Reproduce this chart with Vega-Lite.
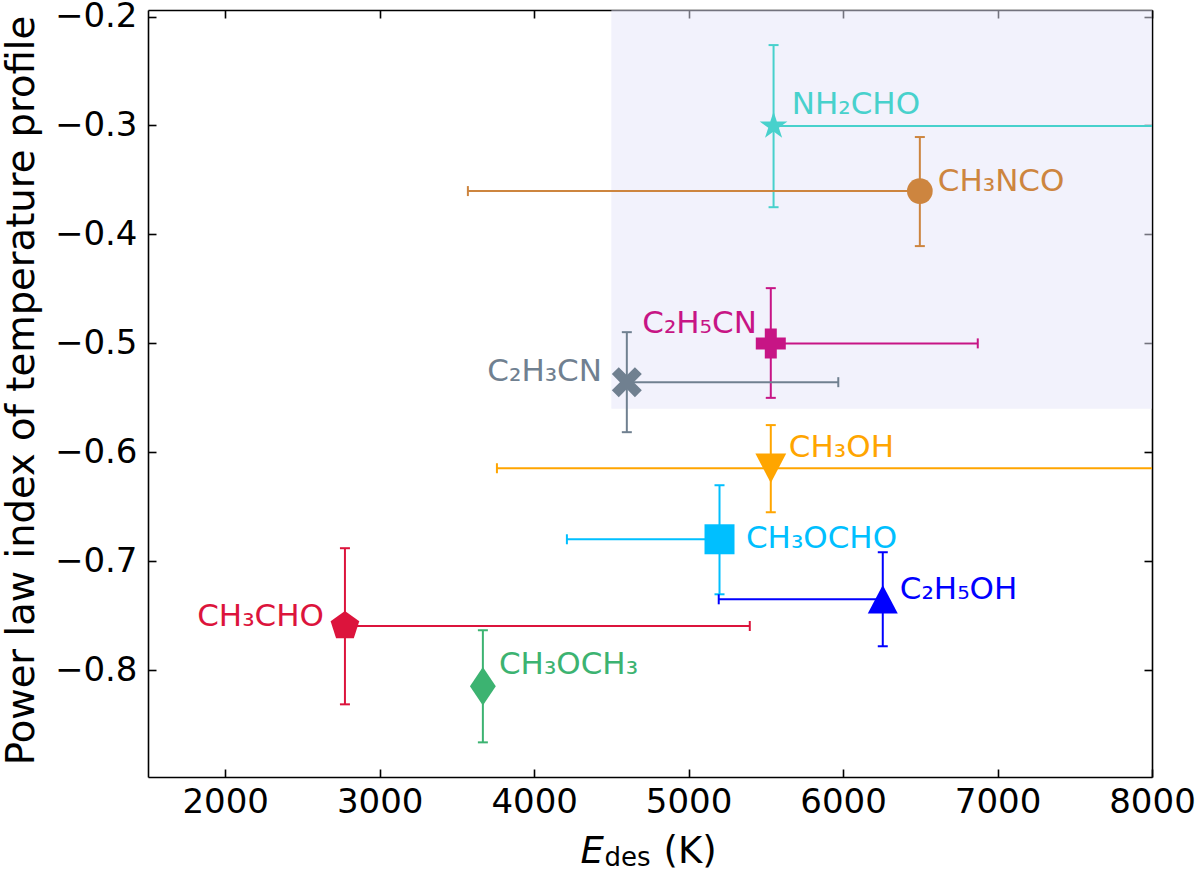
{
  "$schema": "https://vega.github.io/schema/vega-lite/v6.json",
  "width": 1004,
  "height": 767,
  "autosize": {"type": "none"},
  "padding": {"left": 148, "top": 10, "right": 48, "bottom": 96},
  "background": "white",
  "config": {
    "view": {"stroke": null},
    "axis": {
      "grid": false,
      "labelFlush": false,
      "domainColor": "black",
      "domainWidth": 1.6,
      "tickColor": "black",
      "tickWidth": 1.6,
      "labelFont": "DejaVu Sans",
      "labelFontSize": 34,
      "labelColor": "black",
      "titleFont": "DejaVu Sans",
      "titleFontSize": 37,
      "titleFontWeight": "normal",
      "titleColor": "black"
    },
    "text": {"font": "DejaVu Sans"}
  },
  "datasets": {
    "shade": [{"x1": 4500, "x2": 8600, "y1": -0.56, "y2": -0.1}],
    "mol": [
      {"name": "NH2CHO", "label": "NH₂CHO", "x": 5550, "y": -0.3005, "xlo": 5550, "xhi": 8600, "ylo": -0.375, "yhi": -0.2262, "lx": 5668, "ly": -0.2794},
      {"name": "CH3NCO", "label": "CH₃NCO", "x": 6497, "y": -0.3602, "xlo": 3571, "xhi": 6497, "ylo": -0.4107, "yhi": -0.3106, "lx": 6613, "ly": -0.35},
      {"name": "C2H5CN", "label": "C₂H₅CN", "x": 5532, "y": -0.5, "xlo": 5532, "xhi": 6872, "ylo": -0.55, "yhi": -0.4493, "lx": 5442, "ly": -0.4805},
      {"name": "C2H3CN", "label": "C₂H₃CN", "x": 4600, "y": -0.5356, "xlo": 4600, "xhi": 5969, "ylo": -0.5815, "yhi": -0.4897, "lx": 4439, "ly": -0.5246},
      {"name": "CH3OH", "label": "CH₃OH", "x": 5532, "y": -0.6146, "xlo": 3759, "xhi": 8600, "ylo": -0.655, "yhi": -0.575, "lx": 5649, "ly": -0.5944},
      {"name": "CH3OCHO", "label": "CH₃OCHO", "x": 5200, "y": -0.6798, "xlo": 4212, "xhi": 5200, "ylo": -0.7303, "yhi": -0.6302, "lx": 5371, "ly": -0.678},
      {"name": "C2H5OH", "label": "C₂H₅OH", "x": 6257, "y": -0.7349, "xlo": 5195, "xhi": 6257, "ylo": -0.778, "yhi": -0.6917, "lx": 6367, "ly": -0.7248},
      {"name": "CH3CHO", "label": "CH₃CHO", "x": 2775, "y": -0.7594, "xlo": 2775, "xhi": 5396, "ylo": -0.8313, "yhi": -0.688, "lx": 2639, "ly": -0.7496},
      {"name": "CH3OCH3", "label": "CH₃OCH₃", "x": 3668, "y": -0.8147, "xlo": 3668, "xhi": 3668, "ylo": -0.8662, "yhi": -0.7633, "lx": 3772, "ly": -0.7937}
    ]
  },
  "resolve": {"axis": {"x": "independent", "y": "independent"}},
  "layer": [
    {
      "data": {"name": "shade"},
      "mark": {"type": "rect", "fill": "#E6E6FA", "opacity": 0.5, "clip": true},
      "encoding": {
        "x": {
          "field": "x1",
          "type": "quantitative",
          "scale": {"domain": [1500, 8000], "nice": false, "zero": false},
          "axis": {
            "orient": "bottom",
            "values": [2000, 3000, 4000, 5000, 6000, 7000, 8000],
            "format": "d",
            "tickSize": -8,
            "labelPadding": 16,
            "title": "E",
            "titleFontStyle": "italic",
            "titleAlign": "left",
            "titleBaseline": "alphabetic",
            "titleX": 432,
            "titleY": 85
          }
        },
        "x2": {"field": "x2"},
        "y": {
          "field": "y1",
          "type": "quantitative",
          "scale": {"domain": [-0.898, -0.194], "nice": false, "zero": false},
          "axis": {
            "orient": "left",
            "values": [-0.8, -0.7, -0.6, -0.5, -0.4, -0.3, -0.2],
            "format": ".1f",
            "tickSize": -8,
            "labelPadding": 19,
            "title": "Power law index of temperature profile",
            "titleFontSize": 38.5,
            "titleAngle": 270,
            "titleAlign": "center",
            "titleBaseline": "alphabetic",
            "titleX": -115,
            "titleY": 380
          }
        },
        "y2": {"field": "y2"}
      }
    },
    {
      "data": {"name": "mol"},
      "mark": {"type": "rule", "strokeWidth": 2},
      "encoding": {
        "x": {
          "field": "x",
          "type": "quantitative",
          "scale": {"domain": [1500, 8000], "nice": false, "zero": false},
          "axis": {
            "orient": "top",
            "values": [2000, 3000, 4000, 5000, 6000, 7000, 8000],
            "labels": false,
            "tickSize": -8,
            "title": null
          }
        },
        "y": {
          "field": "ylo",
          "type": "quantitative",
          "scale": {"domain": [-0.898, -0.194], "nice": false, "zero": false},
          "axis": {
            "orient": "right",
            "values": [-0.8, -0.7, -0.6, -0.5, -0.4, -0.3, -0.2],
            "labels": false,
            "tickSize": -8,
            "title": null
          }
        },
        "y2": {"field": "yhi"},
        "color": {
          "field": "name",
          "type": "nominal",
          "scale": {
            "domain": ["NH2CHO", "CH3NCO", "C2H5CN", "C2H3CN", "CH3OH", "CH3OCHO", "C2H5OH", "CH3CHO", "CH3OCH3"],
            "range": ["#48D1CC", "#CD853F", "#C71585", "#708090", "#FFA500", "#00BFFF", "#0000FF", "#DC143C", "#3CB371"]
          },
          "legend": null
        }
      }
    },
    {
      "data": {"name": "mol"},
      "mark": {"type": "rule", "strokeWidth": 2, "clip": true},
      "encoding": {
        "x": {
          "field": "xlo",
          "type": "quantitative",
          "scale": {"domain": [1500, 8000], "nice": false, "zero": false},
          "axis": {
            "orient": "bottom",
            "labels": false,
            "ticks": false,
            "domain": false,
            "title": "des",
            "titleFontSize": 26,
            "titleAlign": "left",
            "titleBaseline": "alphabetic",
            "titleX": 456,
            "titleY": 88
          }
        },
        "x2": {"field": "xhi"},
        "y": {"field": "y", "type": "quantitative", "scale": {"domain": [-0.898, -0.194], "nice": false, "zero": false}, "axis": null},
        "color": {"field": "name", "type": "nominal", "legend": null}
      }
    },
    {
      "data": {"name": "mol"},
      "transform": [{"fold": ["ylo", "yhi"], "as": ["end", "yv"]}],
      "mark": {"type": "tick", "orient": "horizontal", "size": 10, "thickness": 2, "opacity": 1},
      "encoding": {
        "x": {
          "field": "x",
          "type": "quantitative",
          "scale": {"domain": [1500, 8000], "nice": false, "zero": false},
          "axis": {
            "orient": "bottom",
            "labels": false,
            "ticks": false,
            "domain": false,
            "title": "(K)",
            "titleAlign": "left",
            "titleBaseline": "alphabetic",
            "titleX": 515,
            "titleY": 85
          }
        },
        "y": {"field": "yv", "type": "quantitative", "scale": {"domain": [-0.898, -0.194], "nice": false, "zero": false}, "axis": null},
        "color": {"field": "name", "type": "nominal", "legend": null}
      }
    },
    {
      "data": {"name": "mol"},
      "transform": [{"fold": ["xlo", "xhi"], "as": ["end", "xv"]}],
      "mark": {"type": "tick", "orient": "vertical", "size": 10, "thickness": 2, "opacity": 1, "clip": true},
      "encoding": {
        "x": {"field": "xv", "type": "quantitative", "scale": {"domain": [1500, 8000], "nice": false, "zero": false}, "axis": null},
        "y": {"field": "y", "type": "quantitative", "scale": {"domain": [-0.898, -0.194], "nice": false, "zero": false}, "axis": null},
        "color": {"field": "name", "type": "nominal", "legend": null}
      }
    },
    {
      "data": {"name": "mol"},
      "mark": {"type": "point", "filled": true, "opacity": 1, "strokeWidth": 0},
      "encoding": {
        "x": {"field": "x", "type": "quantitative", "scale": {"domain": [1500, 8000], "nice": false, "zero": false}, "axis": null},
        "y": {"field": "y", "type": "quantitative", "scale": {"domain": [-0.898, -0.194], "nice": false, "zero": false}, "axis": null},
        "color": {"field": "name", "type": "nominal", "legend": null},
        "shape": {
          "field": "name",
          "type": "nominal",
          "scale": {
            "domain": ["NH2CHO", "CH3NCO", "C2H5CN", "C2H3CN", "CH3OH", "CH3OCHO", "C2H5OH", "CH3CHO", "CH3OCH3"],
            "range": [
              "M0,-1L0.225,-0.309L0.951,-0.309L0.363,0.118L0.588,0.809L0,0.382L-0.588,0.809L-0.363,0.118L-0.951,-0.309L-0.225,-0.309Z",
              "circle",
              "cross",
              "M0.495,-0.919L0.919,-0.495L0.424,0L0.919,0.495L0.495,0.919L0,0.424L-0.495,0.919L-0.919,0.495L-0.424,0L-0.919,-0.495L-0.495,-0.919L0,-0.424Z",
              "M0,0.95L1,-0.95L-1,-0.95Z",
              "square",
              "M0,-0.95L1,0.95L-1,0.95Z",
              "M0,-1L0.951,-0.309L0.588,0.809L-0.588,0.809L-0.951,-0.309Z",
              "M0,-1L0.667,0L0,1L-0.667,0Z"
            ]
          },
          "legend": null
        },
        "size": {
          "field": "name",
          "type": "nominal",
          "scale": {
            "type": "ordinal",
            "domain": ["NH2CHO", "CH3NCO", "C2H5CN", "C2H3CN", "CH3OH", "CH3OCHO", "C2H5OH", "CH3CHO", "CH3OCH3"],
            "range": [850, 660, 900, 1065, 950, 900, 900, 910, 1500]
          },
          "legend": null
        }
      }
    },
    {
      "data": {"name": "mol"},
      "transform": [{"filter": "indexof(['C2H5CN', 'C2H3CN', 'CH3CHO'], datum.name) < 0"}],
      "mark": {"type": "text", "align": "left", "baseline": "middle", "fontSize": 31, "dy": 2},
      "encoding": {
        "x": {"field": "lx", "type": "quantitative", "scale": {"domain": [1500, 8000], "nice": false, "zero": false}, "axis": null},
        "y": {"field": "ly", "type": "quantitative", "scale": {"domain": [-0.898, -0.194], "nice": false, "zero": false}, "axis": null},
        "text": {"field": "label"},
        "color": {"field": "name", "type": "nominal", "legend": null}
      }
    },
    {
      "data": {"name": "mol"},
      "transform": [{"filter": "indexof(['C2H5CN', 'C2H3CN', 'CH3CHO'], datum.name) >= 0"}],
      "mark": {"type": "text", "align": "right", "baseline": "middle", "fontSize": 31, "dy": 2},
      "encoding": {
        "x": {"field": "lx", "type": "quantitative", "scale": {"domain": [1500, 8000], "nice": false, "zero": false}, "axis": null},
        "y": {"field": "ly", "type": "quantitative", "scale": {"domain": [-0.898, -0.194], "nice": false, "zero": false}, "axis": null},
        "text": {"field": "label"},
        "color": {"field": "name", "type": "nominal", "legend": null}
      }
    }
  ]
}
